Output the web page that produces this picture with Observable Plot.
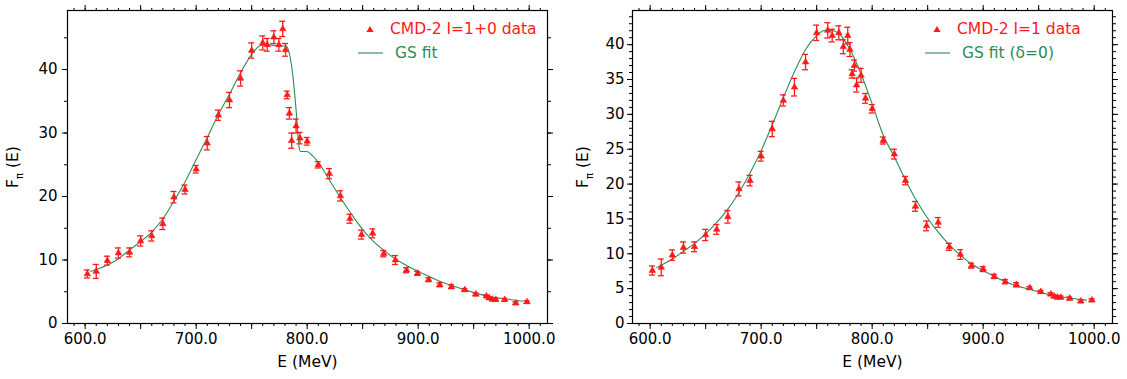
<!DOCTYPE html>
<html><head><meta charset="utf-8">
<script src="https://cdn.jsdelivr.net/npm/d3@7"></script>
<script src="https://cdn.jsdelivr.net/npm/@observablehq/plot@0.6"></script>
<style>
body{margin:0;background:#fff;}
#wrap{width:1127px;height:379px;display:flex;}
</style></head><body><div id="wrap"></div>
<script>
// ---- Left panel: CMD-2 I=1+0 data ----
const E_L = [602, 610, 620, 630, 640, 650, 660, 670, 680, 690, 700, 710, 720, 730, 740, 750, 760, 764, 770, 774.5, 778, 780.5, 782, 784, 786, 790, 793.5, 800, 810, 820, 830, 838.5, 849, 859, 869, 879.5, 889.5, 899.5, 909.5, 919.5, 930, 942, 952, 961.5, 964, 967, 970, 978, 988, 998];
const F_L = [7.8, 8.2, 9.9, 11.1, 11.2, 13.0, 13.8, 15.7, 19.9, 21.1, 24.3, 28.4, 32.8, 35.2, 38.6, 43.0, 44.2, 43.9, 45.1, 43.9, 46.4, 43.1, 36.0, 33.1, 28.8, 31.1, 29.2, 28.7, 25.0, 23.6, 20.1, 16.5, 14.0, 14.2, 11.0, 10.0, 8.4, 7.9, 6.9, 6.1, 5.8, 5.3, 4.6, 4.3, 4.0, 3.8, 3.75, 3.75, 3.2, 3.4];
const ERR_L = [0.63, 1.1, 0.7, 0.8, 0.7, 0.8, 0.8, 0.9, 0.9, 0.7, 0.6, 1.05, 0.8, 1.2, 1.2, 1.2, 1.1, 1.0, 1.0, 1.0, 1.2, 1.0, 0.6, 0.9, 1.2, 1.1, 0.9, 0.6, 0.5, 0.8, 0.8, 0.7, 0.7, 0.7, 0.5, 0.7, 0.4, 0.3, 0.3, 0.3, 0.3, 0.2, 0.2, 0.2, 0.2, 0.2, 0.2, 0.2, 0.2, 0.2];
const FIT_E_L = [605, 610, 620, 630, 640, 650, 660, 670, 680, 690, 700, 710, 720, 730, 740, 750, 758, 764, 770, 776, 781, 784, 787, 790, 793, 794, 799.5, 805, 810, 820, 830, 840, 850, 860, 870, 880, 890, 900, 910, 920, 930, 942, 952, 962, 978, 994];
const FIT_F_L = [8.2, 8.5, 9.2, 10.2, 11.6, 12.9, 14.4, 16.5, 19.3, 22.3, 25.8, 29.3, 32.9, 36.1, 39.5, 42.4, 43.8, 43.9, 43.8, 43.7, 43.7, 42.5, 39.2, 33.7, 27.5, 27.1, 27.1, 26.4, 25.4, 22.6, 19.8, 17.2, 14.8, 12.9, 11.4, 10.1, 9.1, 8.2, 7.4, 6.6, 6.0, 5.3, 4.8, 4.3, 3.9, 3.5];

// ---- Right panel: CMD-2 I=1 data ----
const E_R = [602, 610, 620, 630, 640, 650, 660, 670, 680, 690, 700, 710, 720, 730, 740, 750, 760, 764, 770, 774, 778, 780, 782, 784, 786, 790, 794, 800, 810, 820, 830, 839, 849, 859.5, 869.5, 879.5, 889.5, 900, 910, 920, 930, 942, 952, 961, 964, 967, 970, 978, 988, 998];
const F_R = [7.6, 8.05, 9.8, 10.9, 11.0, 12.7, 13.5, 15.3, 19.3, 20.5, 24.0, 27.9, 32.0, 33.9, 37.5, 41.7, 42.05, 41.3, 41.7, 39.7, 41.3, 39.3, 35.8, 37.0, 34.2, 35.6, 32.3, 30.8, 26.25, 24.3, 20.5, 16.8, 14.0, 14.5, 11.0, 9.9, 8.3, 7.8, 6.75, 6.0, 5.56, 5.1, 4.55, 4.2, 3.9, 3.75, 3.75, 3.6, 3.2, 3.35];
const ERR_R = [0.65, 1.2, 0.75, 0.8, 0.7, 0.8, 0.7, 0.9, 1.0, 0.75, 0.7, 1.1, 0.8, 1.26, 1.1, 1.1, 1.1, 0.9, 1.0, 1.0, 1.2, 1.0, 0.6, 0.8, 1.0, 1.0, 0.7, 0.6, 0.5, 0.7, 0.6, 0.7, 0.7, 0.7, 0.5, 0.7, 0.35, 0.35, 0.3, 0.3, 0.3, 0.2, 0.2, 0.2, 0.2, 0.2, 0.2, 0.2, 0.2, 0.2];
const FIT_E_R = [606, 620, 630, 640, 650, 660, 670, 680, 690, 700, 710, 720, 730, 740, 750, 756, 760, 765, 770, 780, 790, 800, 810, 820, 830, 840, 850, 860, 870, 880, 890, 900, 910, 920, 930, 942, 952, 961, 978, 993];
const FIT_F_R = [8.05, 9.25, 10.35, 11.5, 12.85, 14.5, 16.4, 18.8, 21.6, 24.8, 28.5, 32.4, 36.1, 39.3, 41.3, 42.0, 42.1, 42.0, 41.6, 39.3, 35.8, 31.5, 27.0, 23.9, 20.6, 17.6, 15.1, 13.0, 11.2, 9.7, 8.5, 7.6, 6.75, 6.0, 5.4, 4.9, 4.45, 4.1, 3.65, 3.35];

// ---- axes ----
const X_MINOR = d3.range(590, 1011, 10);
const X_MAJOR = d3.range(600, 1001, 50);
const X_LABELS = [600, 700, 800, 900, 1000];
const Y_LABELS_L = [0, 10, 20, 30, 40];
const Y_MINOR_L = d3.range(0, 50, 5);
const Y_LABELS_R = d3.range(0, 41, 5);
const Y_MINOR_R = d3.range(0, 45, 1);

const LEGEND_L = ["CMD-2 I=1+0 data", "GS fit"];
const LEGEND_R = ["CMD-2 I=1 data", "GS fit (\u03b4=0)"];
const X_TITLE = "E (MeV)";

const RED = "#ff1a1a", GREEN = "#2e8b57";
const FONT = "DejaVu Sans";

function panel(cfg) {
  const data = cfg.E.map((e, i) => ({E: e, F: cfg.F[i], err: cfg.err[i]}));
  const fit = cfg.fitE.map((e, i) => ({E: e, F: cfg.fitF[i]}));
  const blank = () => "";
  const svg = Plot.plot({
    width: cfg.width, height: 379,
    marginLeft: cfg.ml, marginRight: cfg.mr, marginTop: 10, marginBottom: 56,
    style: {fontFamily: FONT, fontSize: "15px", background: "white", color: "black"},
    x: {domain: [584.1, 1016.5]},
    y: {domain: cfg.ydom},
    marks: [
      Plot.axisX({anchor: "bottom", ticks: X_MINOR, tickSize: 3, tickFormat: blank, label: null}),
      Plot.axisX({anchor: "bottom", ticks: X_MAJOR, tickSize: 6, tickFormat: blank, label: null}),
      Plot.axisX({anchor: "bottom", ticks: X_LABELS, tickSize: 0, tickPadding: 10, tickFormat: d3.format(".1f"), label: null}),
      Plot.axisX({anchor: "top", ticks: X_MINOR, tickSize: 3, tickFormat: blank, label: null}),
      Plot.axisX({anchor: "top", ticks: X_MAJOR, tickSize: 6, tickFormat: blank, label: null}),
      Plot.axisY({anchor: "left", ticks: cfg.yMinor, tickSize: 3, tickFormat: blank, label: null}),
      Plot.axisY({anchor: "left", ticks: cfg.yLabels, tickSize: 5, tickPadding: cfg.ypad, tickFormat: d3.format("d"), label: null}),
      Plot.axisY({anchor: "right", ticks: cfg.yMinor, tickSize: 3, tickFormat: blank, label: null}),
      Plot.axisY({anchor: "right", ticks: cfg.yLabels, tickSize: 5, tickFormat: blank, label: null}),
      Plot.frame({stroke: "black", strokeWidth: 1.2}),
      Plot.line(fit, {x: "E", y: "F", stroke: GREEN, strokeWidth: 1.1, curve: "monotone-x"}),
      Plot.ruleX(data, {x: "E", y1: d => d.F - d.err, y2: d => d.F + d.err, stroke: RED, strokeWidth: 1.3}),
      Plot.ruleY(data, {y: d => d.F + d.err, x1: "E", x2: "E", insetLeft: -3, insetRight: -3, stroke: RED, strokeWidth: 1.3}),
      Plot.ruleY(data, {y: d => d.F - d.err, x1: "E", x2: "E", insetLeft: -3, insetRight: -3, stroke: RED, strokeWidth: 1.3}),
      Plot.dot(data, {x: "E", y: "F", symbol: "triangle", r: 2.4, fill: RED, stroke: RED, strokeWidth: 0.6}),
      Plot.text([X_TITLE], {text: d => d, frameAnchor: "bottom", dy: 43, fontSize: 15.5})
    ]
  });
  const s = d3.select(svg);
  // y axis title with subscript
  const t = s.append("text")
    .attr("transform", `translate(${cfg.ytx},167) rotate(-90)`)
    .attr("text-anchor", "middle").attr("font-size", 15.5).attr("fill", "black");
  t.append("tspan").text("F");
  t.append("tspan").attr("font-size", 10).attr("dy", 5).text("\u03c0");
  t.append("tspan").attr("dy", -5).text(" (E)");
  // legend
  const lg = s.append("g").attr("font-size", 15.5).attr("text-anchor", "start");
  lg.append("path").attr("d", d3.symbol(d3.symbolTriangle, 22)())
    .attr("transform", `translate(${cfg.legX - 20},30)`).attr("fill", RED);
  lg.append("text").attr("x", cfg.legX).attr("y", 28.5).attr("dy", "0.35em").attr("fill", RED).text(cfg.legend[0]);
  lg.append("line").attr("x1", cfg.legX - 32).attr("x2", cfg.legX - 7).attr("y1", 53).attr("y2", 53)
    .attr("stroke", GREEN).attr("stroke-width", 1.1);
  lg.append("text").attr("x", cfg.legX + 5).attr("y", 53).attr("dy", "0.35em").attr("fill", GREEN).text(cfg.legend[1]);
  return svg;
}

const wrap = document.getElementById("wrap");
wrap.append(panel({
  width: 563, ml: 67, mr: 16, ydom: [0, 49.3], yMinor: Y_MINOR_L, yLabels: Y_LABELS_L, ypad: 5,
  E: E_L, F: F_L, err: ERR_L, fitE: FIT_E_L, fitF: FIT_F_L, legend: LEGEND_L, legX: 390, ytx: 18
}));
wrap.append(panel({
  width: 564, ml: 69, mr: 15, ydom: [0, 44.9], yMinor: Y_MINOR_R, yLabels: Y_LABELS_R, ypad: 3,
  E: E_R, F: F_R, err: ERR_R, fitE: FIT_E_R, fitF: FIT_F_R, legend: LEGEND_R, legX: 394, ytx: 25
}));
</script></body></html>
